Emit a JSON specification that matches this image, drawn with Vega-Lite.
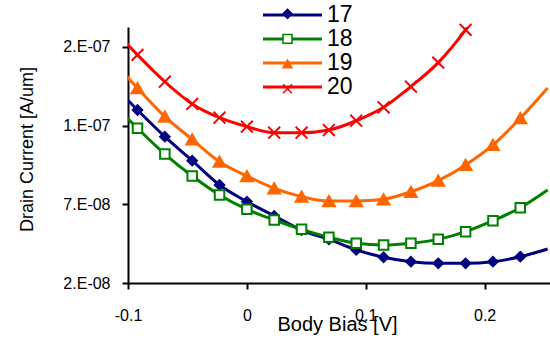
{
  "$schema": "https://vega.github.io/schema/vega-lite/v6.json",
  "width": 422,
  "height": 256,
  "autosize": {"type": "none"},
  "padding": {"left": 128, "top": 27, "right": 0, "bottom": 63},
  "background": "white",
  "config": {
    "view": {"stroke": null},
    "font": "Liberation Sans",
    "axis": {
      "grid": false, "domainColor": "black", "tickColor": "black", "labelColor": "black", "titleColor": "black",
      "domainWidth": 2, "tickWidth": 2, "tickSize": 6, "labelFont": "Liberation Sans", "titleFont": "Liberation Sans",
      "titleFontWeight": "normal", "labelFlush": false, "labelOverlap": false
    }
  },
  "data": {"values": [
    {"s": "17", "x": -0.115, "y": 1.344e-7}, {"s": "17", "x": -0.092, "y": 1.187e-7}, {"s": "17", "x": -0.069, "y": 1.038e-7},
    {"s": "17", "x": -0.046, "y": 9.04e-8}, {"s": "17", "x": -0.023, "y": 7.68e-8}, {"s": "17", "x": 0.0, "y": 6.75e-8},
    {"s": "17", "x": 0.023, "y": 5.95e-8}, {"s": "17", "x": 0.046, "y": 5.16e-8}, {"s": "17", "x": 0.069, "y": 4.64e-8},
    {"s": "17", "x": 0.092, "y": 4.05e-8}, {"s": "17", "x": 0.115, "y": 3.64e-8}, {"s": "17", "x": 0.138, "y": 3.39e-8},
    {"s": "17", "x": 0.161, "y": 3.30e-8}, {"s": "17", "x": 0.184, "y": 3.30e-8}, {"s": "17", "x": 0.207, "y": 3.39e-8},
    {"s": "17", "x": 0.230, "y": 3.67e-8}, {"s": "17", "x": 0.253, "y": 4.10e-8},

    {"s": "18", "x": -0.115, "y": 1.238e-7}, {"s": "18", "x": -0.092, "y": 1.085e-7}, {"s": "18", "x": -0.069, "y": 9.41e-8},
    {"s": "18", "x": -0.046, "y": 8.18e-8}, {"s": "18", "x": -0.023, "y": 7.12e-8}, {"s": "18", "x": 0.0, "y": 6.32e-8},
    {"s": "18", "x": 0.023, "y": 5.72e-8}, {"s": "18", "x": 0.046, "y": 5.20e-8}, {"s": "18", "x": 0.069, "y": 4.76e-8},
    {"s": "18", "x": 0.092, "y": 4.42e-8}, {"s": "18", "x": 0.115, "y": 4.32e-8}, {"s": "18", "x": 0.138, "y": 4.42e-8},
    {"s": "18", "x": 0.161, "y": 4.64e-8}, {"s": "18", "x": 0.184, "y": 5.07e-8}, {"s": "18", "x": 0.207, "y": 5.68e-8},
    {"s": "18", "x": 0.230, "y": 6.41e-8}, {"s": "18", "x": 0.253, "y": 7.40e-8},

    {"s": "19", "x": -0.115, "y": 1.478e-7}, {"s": "19", "x": -0.092, "y": 1.309e-7}, {"s": "19", "x": -0.069, "y": 1.150e-7},
    {"s": "19", "x": -0.046, "y": 1.023e-7}, {"s": "19", "x": -0.023, "y": 8.98e-8}, {"s": "19", "x": 0.0, "y": 8.18e-8},
    {"s": "19", "x": 0.023, "y": 7.49e-8}, {"s": "19", "x": 0.046, "y": 7.03e-8}, {"s": "19", "x": 0.069, "y": 6.78e-8},
    {"s": "19", "x": 0.092, "y": 6.78e-8}, {"s": "19", "x": 0.115, "y": 6.88e-8}, {"s": "19", "x": 0.138, "y": 7.30e-8},
    {"s": "19", "x": 0.161, "y": 7.92e-8}, {"s": "19", "x": 0.184, "y": 8.80e-8}, {"s": "19", "x": 0.207, "y": 9.92e-8},
    {"s": "19", "x": 0.230, "y": 1.141e-7}, {"s": "19", "x": 0.253, "y": 1.310e-7},

    {"s": "20", "x": -0.115, "y": 1.660e-7}, {"s": "20", "x": -0.092, "y": 1.495e-7}, {"s": "20", "x": -0.069, "y": 1.345e-7},
    {"s": "20", "x": -0.046, "y": 1.221e-7}, {"s": "20", "x": -0.023, "y": 1.144e-7}, {"s": "20", "x": 0.0, "y": 1.094e-7},
    {"s": "20", "x": 0.023, "y": 1.060e-7}, {"s": "20", "x": 0.046, "y": 1.060e-7}, {"s": "20", "x": 0.069, "y": 1.075e-7},
    {"s": "20", "x": 0.092, "y": 1.127e-7}, {"s": "20", "x": 0.115, "y": 1.202e-7}, {"s": "20", "x": 0.138, "y": 1.318e-7},
    {"s": "20", "x": 0.161, "y": 1.452e-7}, {"s": "20", "x": 0.184, "y": 1.635e-7}, {"s": "20", "x": 0.207, "y": 1.858e-7}
  ]},
  "layer": [
    {
      "mark": {"type": "line", "interpolate": "monotone", "strokeWidth": 3, "clip": true},
      "encoding": {
        "x": {"field": "x", "type": "quantitative",
          "scale": {"domain": [-0.1, 0.255], "nice": false, "zero": false},
          "axis": {"values": [-0.1, 0, 0.1, 0.2],
            "labelExpr": "datum.value < -0.05 ? '-0.1' : datum.value < 0.05 ? '0' : datum.value < 0.15 ? '0.1' : '0.2'",
            "title": "Body Bias [V]", "titleFontSize": 20, "titleX": 209, "titleY": 47, "titleBaseline": "alphabetic",
            "labelFontSize": 16, "labelPadding": 18}},
        "y": {"field": "y", "type": "quantitative",
          "scale": {"domain": [2.2e-8, 1.651e-7], "nice": false, "zero": false},
          "axis": {"values": [2.2e-8, 6.6e-8, 1.1e-7, 1.54e-7],
            "labelExpr": "datum.value < 3e-8 ? '2.E-08' : datum.value < 8e-8 ? '7.E-08' : datum.value < 1.3e-7 ? '1.E-07' : '2.E-07'",
            "title": "Drain Current [A/um]", "titleFontSize": 18, "titleAngle": -90, "titleX": -96, "titleY": 122,
            "titleBaseline": "alphabetic", "titleAlign": "center",
            "labelFontSize": 16, "labelPadding": 12}},
        "color": {"field": "s", "type": "nominal",
          "scale": {"domain": ["17", "18", "19", "20"], "range": ["#000080", "#008000", "#FF6600", "#FF0000"]},
          "legend": {"orient": "none", "legendX": 153, "legendY": -23.5, "title": null, "padding": 0,
            "symbolType": "M-5.9,0H5.9", "symbolSize": 100, "symbolStrokeWidth": 3,
            "labelFontSize": 23, "labelFont": "Liberation Sans", "labelColor": "black", "labelOffset": 23, "rowPadding": 0}}
      }
    },
    {
      "transform": [{"filter": "datum.x > -0.1 && datum.x < 0.24 && datum.y < 1.65e-7"}],
      "mark": {"type": "point", "strokeWidth": 2, "opacity": 1},
      "encoding": {
        "x": {"field": "x", "type": "quantitative"},
        "y": {"field": "y", "type": "quantitative"},
        "shape": {"field": "s", "type": "nominal",
          "scale": {"range": ["diamond", "square", "triangle-up", "M-1,-1L1,1M1,-1L-1,1"]},
          "legend": {"orient": "none", "legendX": 153, "legendY": -18.65, "title": null, "padding": 0,
            "symbolSize": 80, "symbolStrokeWidth": 1.5, "symbolOffset": 1,
            "symbolFillColor": {"expr": "datum.value === '17' ? '#000080' : datum.value === '18' ? '#ffffff' : datum.value === '19' ? '#FF6600' : 'transparent'"},
            "symbolStrokeColor": {"expr": "datum.value === '17' ? '#000080' : datum.value === '18' ? '#008000' : datum.value === '19' ? '#FF6600' : '#FF0000'"},
            "labelExpr": "''", "labelFontSize": 1, "labelOffset": 0, "rowPadding": 10}},
        "fill": {"field": "s", "type": "nominal",
          "scale": {"domain": ["17", "18", "19", "20"], "range": ["#000080", "#ffffff", "#FF6600", "transparent"]}, "legend": null},
        "stroke": {"field": "s", "type": "nominal",
          "scale": {"domain": ["17", "18", "19", "20"], "range": ["#000080", "#008000", "#FF6600", "#FF0000"]}, "legend": null},
        "size": {"condition": {"test": "datum.s === '19' || datum.s === '20'", "value": 140}, "value": 90}
      }
    }
  ]
}
